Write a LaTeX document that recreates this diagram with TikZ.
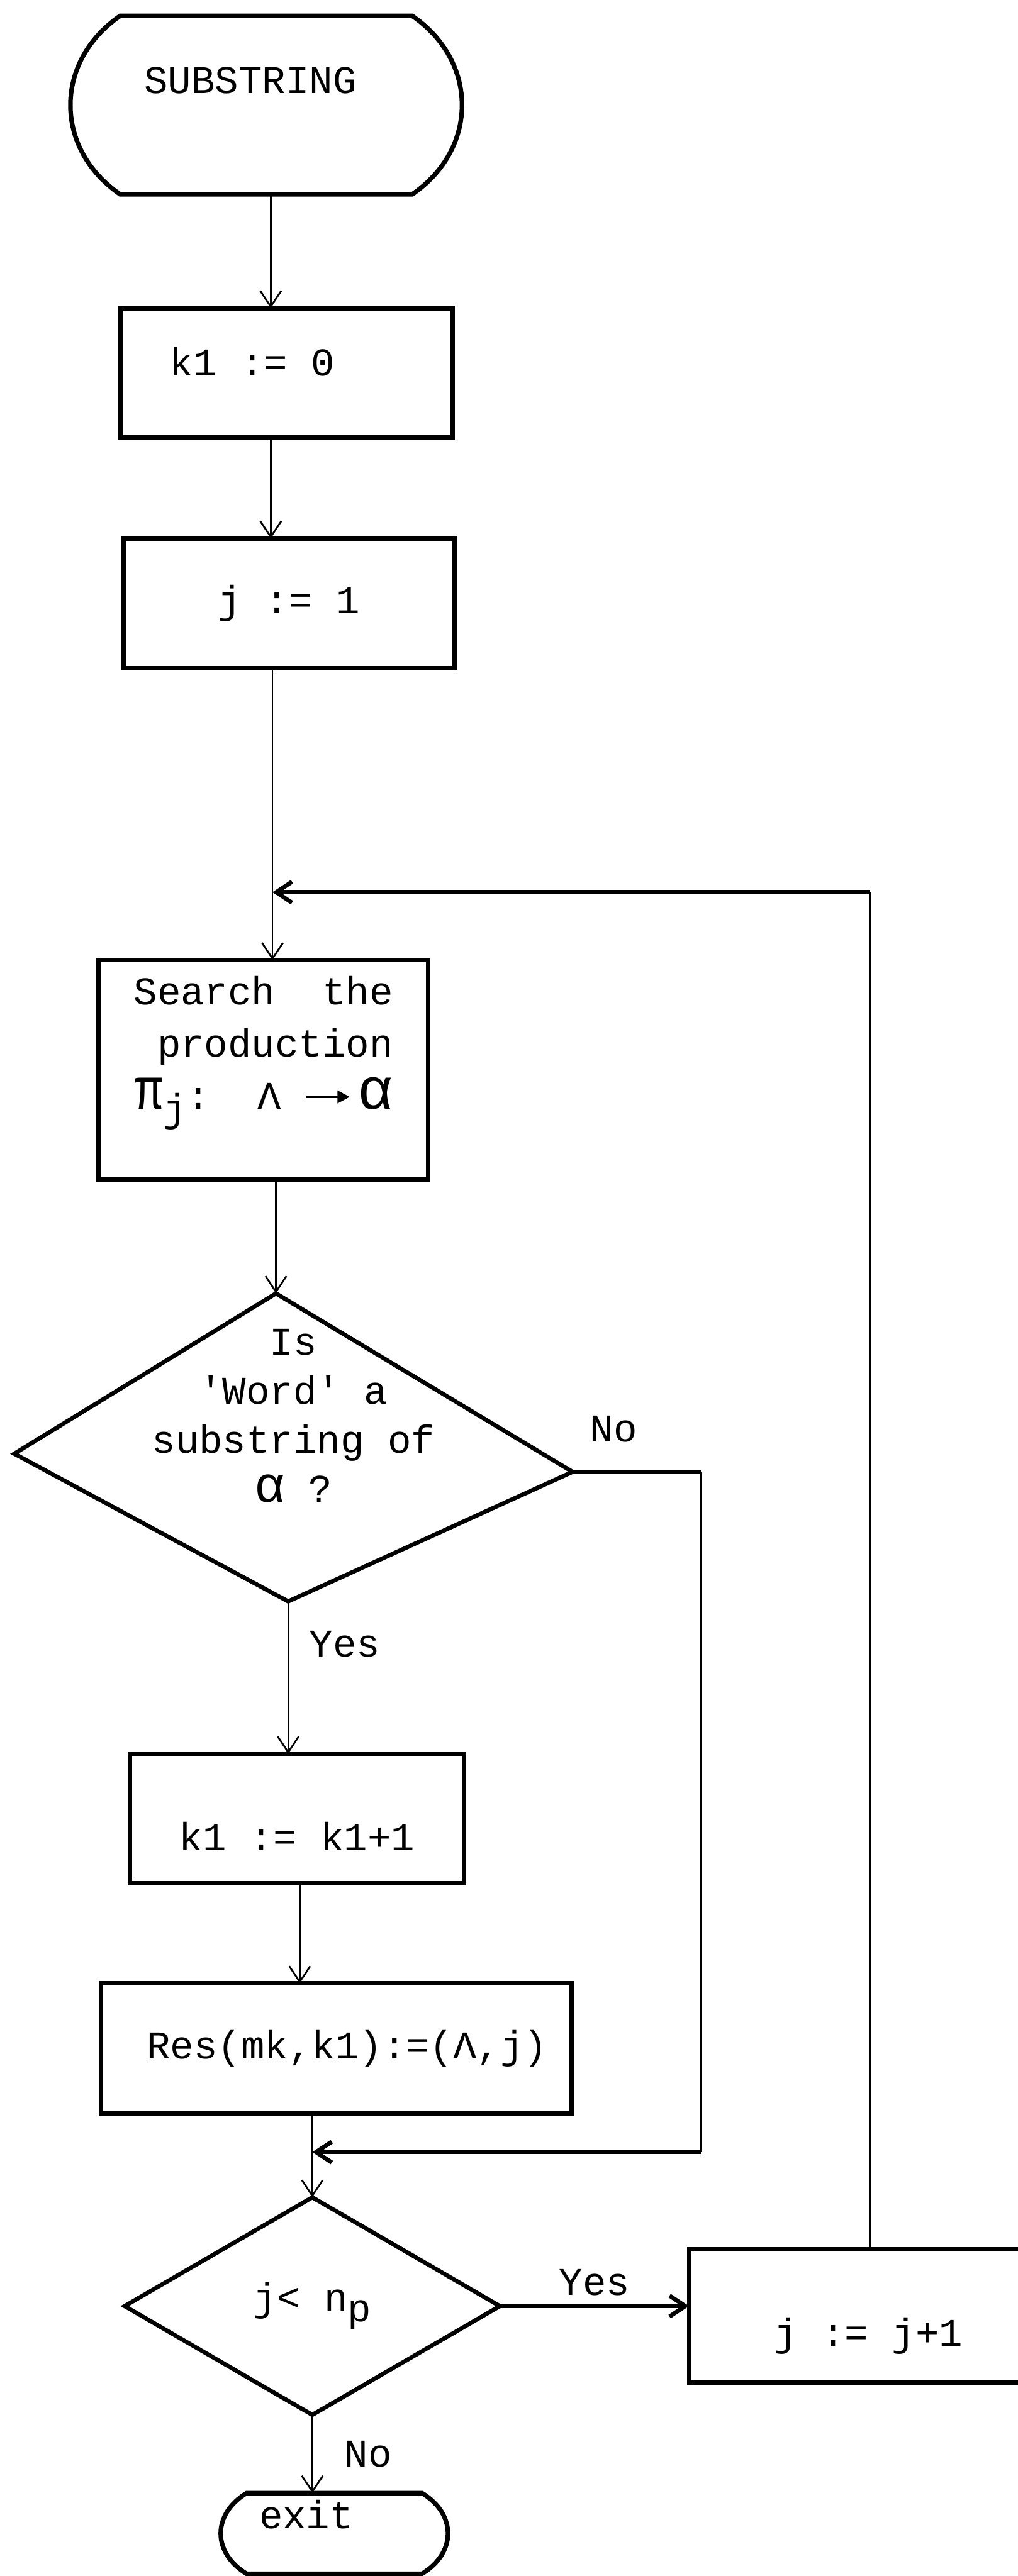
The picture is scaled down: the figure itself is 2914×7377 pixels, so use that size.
\documentclass[tikz,border=0pt]{standalone}
\usepackage{fontspec}
\setmainfont{Liberation Mono}
\usetikzlibrary{arrows.meta}
\begin{document}
\begin{tikzpicture}[x=0.1mm,y=-0.1mm,
  font=\fontsize{32}{40}\selectfont,
  boxline/.style={line width=1.3mm},
  conn/.style={line width=0.5mm},
  heavy/.style={line width=1.2mm},
  arr/.style={-{Straight Barb[length=4.5mm,width=6mm]}},
  proc/.style={draw, boxline, rectangle, inner sep=0pt, outer sep=0pt},
  frame/.style={rectangle, inner sep=0pt, outer sep=0pt},
  lbl/.style={inner sep=0pt}
]
\useasboundingbox (0,0) rectangle (2914,7377);
\clip (0,0) rectangle (2914,7377);
\fill[white] (0,0) rectangle (2914,7377);

% nodes
\node[frame, minimum width=83.6mm, minimum height=51.1mm, text height=7.1mm, text depth=13.8mm] (start) at (762,301) {SUBSTRING\hspace{9mm}\mbox{}};
\node[proc, minimum width=95.1mm, minimum height=37.1mm, text height=7.1mm, text depth=5.6mm] (k1) at (820,1068) {k1 := 0\hspace{19.6mm}\mbox{}};
\node[proc, minimum width=94.8mm, minimum height=37.2mm] (jset) at (827,1728) {j := 1};
\node[proc, minimum width=94.4mm, minimum height=62.9mm, align=right, font=\fontsize{32}{42.7}\selectfont] (search) at (754,3064)
  {Search~~the\\production\\\scalebox{1.2}[1.5]{π}\raisebox{-3.5mm}{j}:~~Λ~\tikz[baseline=-0.6ex]\draw[line width=0.8mm,-{Triangle[length=3.5mm,width=3.5mm]}] (0mm,0mm) -- (12.5mm,0mm);\,\scalebox{1.5}{α}\\[-5.6mm]\strut};
\node[frame, minimum width=159.8mm, minimum height=88.2mm, align=center] (d1) at (840,4145)
  {Is\\\textquotesingle Word\textquotesingle{} a\\substring of\\\scalebox{1.3}{α}~?\\\strut};
\node[proc, minimum width=95.6mm, minimum height=37.1mm, text height=18.3mm, text depth=0mm] (k1p) at (850,5208) {k1 := k1+1};
\node[proc, minimum width=134.7mm, minimum height=37.2mm] (res) at (962,5866) {\mbox{}\hspace{6.4mm}Res(mk,k1):=(Λ,j)};
\node[frame, minimum width=107.4mm, minimum height=62.3mm] (d2) at (894,6604) {j<~n\raisebox{-3mm}{p}};
\node[proc, minimum width=102.7mm, minimum height=38.1mm, text height=17.3mm, text depth=0mm] (jinc) at (2486,6632) {j := j+1};
\node[frame, minimum width=50.2mm, minimum height=23.1mm, inner sep=0.5mm, text height=7.1mm, text depth=10mm] (exit) at (957,7255) {exit\hspace{16mm}\mbox{}};

% shapes drawn around frames
\draw[boxline] (start.north west) -- (start.north east)
  .. controls +(19mm,-13mm) and +(19mm,13mm) .. (start.south east)
  -- (start.south west)
  .. controls +(-19mm,13mm) and +(-19mm,-13mm) .. (start.north west) -- cycle;
\draw[boxline] (exit.north west) -- (exit.north east)
  .. controls +(9.9mm,-6mm) and +(9.9mm,6mm) .. (exit.south east)
  -- (exit.south west)
  .. controls +(-9.9mm,6mm) and +(-9.9mm,-6mm) .. (exit.north west) -- cycle;

\coordinate (d1n) at ([xshift=-5mm]d1.north);
\coordinate (d1e) at ([yshift=-7mm]d1.east);
\coordinate (d1s) at ([xshift=-1.5mm]d1.south);
\coordinate (d1w) at ([yshift=-1.8mm]d1.west);
\draw[heavy, line join=miter] (d1n) -- (d1e) -- (d1s) -- (d1w) -- cycle;
\draw[heavy, line join=miter] (d2.north) -- (d2.east) -- (d2.south) -- (d2.west) -- cycle;

% helper coordinates
\coordinate (ax1) at (775,0);
\coordinate (ax3) at (780,0);
\coordinate (ax6) at (858,0);
\coordinate (loop) at (2490,2555);
\coordinate (nox) at (2007,0);
\coordinate (merge) at (894,6163);

% connectors
\draw[conn,arr] (start.south -| ax1) -- (k1.north -| ax1);
\draw[conn,arr] (k1.south -| ax1) -- (jset.north -| ax1);
\draw[conn,arr] (jset.south -| ax3) -- (search.north -| ax3);
\draw[conn] (jinc.north -| loop) -- (loop);
\draw[heavy,arr] (loop) -- (loop -| ax3);
\draw[conn,arr] (search.south -| d1n) -- (d1n);
\draw[conn,arr] (d1s) -- (k1p.north -| d1s) node[lbl, pos=0.28, right=5.8mm] {Yes};
\draw[heavy] (d1e) -- (d1e -| nox) node[lbl, pos=0.32, above=8mm] {No};
\draw[conn] (d1e -| nox) -- (merge -| nox);
\draw[heavy,arr] (merge -| nox) -- (merge);
\draw[conn,arr] (k1p.south -| ax6) -- (res.north -| ax6);
\draw[conn,arr] (res.south -| merge) -- (d2.north);
\draw[heavy,arr] (d2.east) -- (jinc.west |- d2.east) node[lbl, midway, above=2.5mm] {Yes};
\draw[conn,arr] (d2.south) -- (exit.north -| d2.south) node[lbl, midway, right=9mm] {No};
\end{tikzpicture}
\end{document}
